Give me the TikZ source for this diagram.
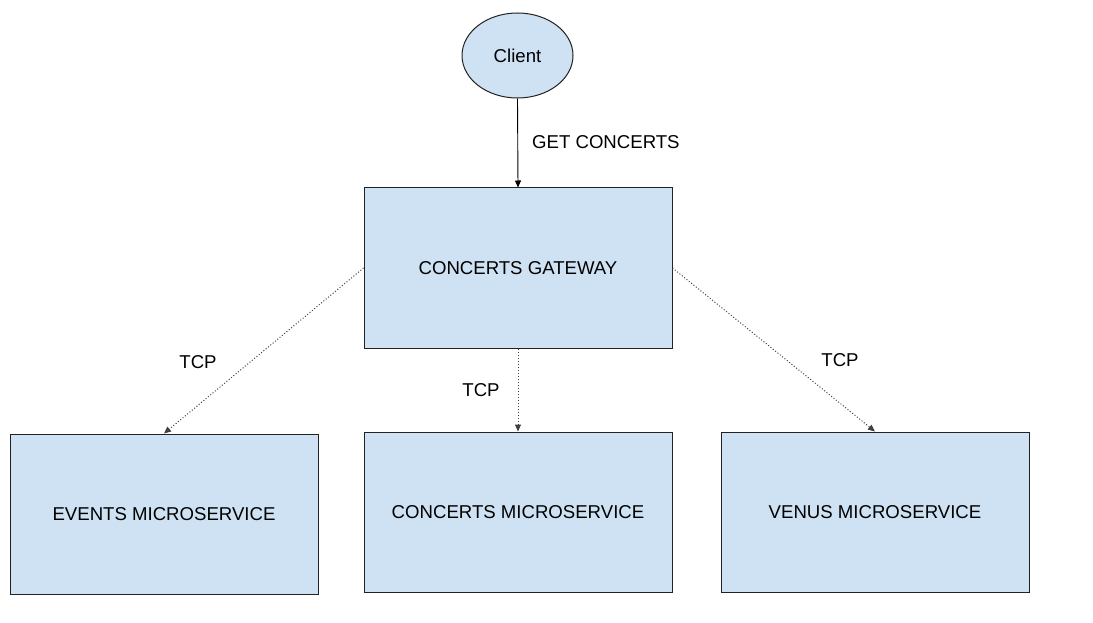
\documentclass[tikz,border=0pt]{standalone}
\usepackage{fontspec}
\setmainfont{Liberation Sans}
\usetikzlibrary{shapes.geometric,arrows.meta}
\definecolor{boxfill}{HTML}{CFE2F3}
\definecolor{edge}{HTML}{222222}
\tikzset{
  boxnode/.style={draw=edge,fill=boxfill,line width=1pt,minimum width=308pt,minimum height=160pt,inner sep=0pt,font=\fontsize{18.6}{21}\selectfont},
  clientnode/.style={ellipse,draw=edge,fill=boxfill,line width=1pt,minimum width=111pt,minimum height=85pt,inner sep=0pt,font=\fontsize{18.6}{21}\selectfont},
  solidarrow/.style={draw=black,line width=0.9pt,-{Triangle[length=7pt,width=6pt]}},
  dotarrow/.style={draw=black!75,line width=1pt,dotted,-{Triangle[length=7pt,width=6pt]}},
  lbl/.style={font=\fontsize{18.6}{21}\selectfont,inner sep=0pt}
}
\begin{document}
\begin{tikzpicture}[x=1pt,y=-1pt]
\useasboundingbox (0,0) rectangle (1093,623);
\node[clientnode] (client) at (517.5,55.5) {Client};
\node[boxnode] (gw) at (518,268) {CONCERTS GATEWAY};
\node[boxnode] (ev) at (164,514) {EVENTS MICROSERVICE};
\node[boxnode] (cm) at (518,512) {CONCERTS MICROSERVICE};
\node[boxnode] (vm) at (875,512) {VENUS MICROSERVICE};
\draw[solidarrow] (client.south) -- (gw.north);
\node[lbl,anchor=west] (l1) at (532,142) {GET CONCERTS};
\draw[dotarrow] (gw.west) -- (ev.north);
\draw[dotarrow] (gw.south) -- (cm.north);
\draw[dotarrow] (gw.east) -- (vm.north);
\node[lbl] (t1) at (198,362) {TCP};
\node[lbl] (t2) at (481,390) {TCP};
\node[lbl] (t3) at (840,360) {TCP};
\end{tikzpicture}
\end{document}
